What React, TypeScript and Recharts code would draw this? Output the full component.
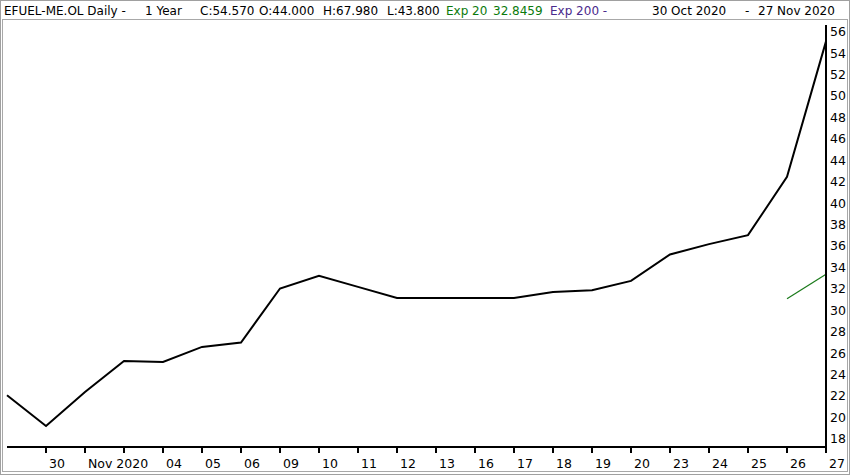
import React from 'react';
import { LineChart, Line, XAxis, YAxis } from 'recharts';

const dates = [
  '29 Oct', '30 Oct', '02 Nov', '03 Nov', '04 Nov', '05 Nov', '06 Nov', '09 Nov', '10 Nov', '11 Nov', '12 Nov',
  '13 Nov', '16 Nov', '17 Nov', '18 Nov', '19 Nov', '20 Nov', '23 Nov', '24 Nov', '25 Nov', '26 Nov', '27 Nov',
];
const tickLabels = [
  '', '30', 'Nov 2020', '', '04', '05', '06', '09', '10', '11', '12',
  '13', '16', '17', '18', '19', '20', '23', '24', '25', '26', '27',
];
const closes = [
  21.55, 18.68, 21.86, 24.75, 24.66, 26.06, 26.47, 31.51, 32.69, 31.66, 30.63,
  30.63, 30.63, 30.63, 31.19, 31.35, 32.22, 34.69, 35.65, 36.49, 41.93, 54.57,
];
const exp20: (number | null)[] = [
  null, null, null, null, null, null, null, null, null, null, null,
  null, null, null, null, null, null, null, null, null, 30.55, 32.85,
];
const yTicks = [18, 20, 22, 24, 26, 28, 30, 32, 34, 36, 38, 40, 42, 44, 46, 48, 50, 52, 54, 56];

const data = dates.map((d, i) => ({ date: d, close: closes[i], exp20: exp20[i] }));

const FONT = '"DejaVu Sans", Verdana, sans-serif';

const XTick = (props: any) => {
  const { x, y, index } = props;
  if (index === 0) return <g />;
  return (
    <g>
      <line x1={x} x2={x} y1={y - 6} y2={y} stroke="#000" strokeWidth={2} />
      <text x={x + 3} y={y + 15} fontSize={12.5} fontFamily={FONT} fill="#000" textAnchor="start">
        {tickLabels[index]}
      </text>
    </g>
  );
};

const YTick = (props: any) => {
  const { x, y, payload } = props;
  return (
    <text x={x + 1} y={y + 10} fontSize={12.5} fontFamily={FONT} fill="#000" textAnchor="start">
      {payload.value}
    </text>
  );
};

const hdr = (left: number, text: string, color = '#000') => (
  <div
    style={{
      position: 'absolute',
      left,
      top: 4,
      fontSize: 12,
      fontFamily: FONT,
      color,
      whiteSpace: 'pre',
      lineHeight: '15px',
    }}
  >
    {text}
  </div>
);

export default function App() {
  return (
    <div
      style={{
        position: 'absolute',
        left: 0,
        top: 0,
        width: 850,
        height: 475,
        background: '#fff',
        overflow: 'hidden',
      }}
    >
      <div
        style={{
          position: 'absolute',
          left: 0,
          top: 0,
          width: 850,
          height: 475,
          boxSizing: 'border-box',
          border: '1px solid #a0a0a0',
        }}
      />
      <div
        style={{
          position: 'absolute',
          left: 2,
          top: 19,
          width: 846,
          height: 453,
          boxSizing: 'border-box',
          border: '1px solid #a8a8a8',
        }}
      />
      {hdr(4, 'EFUEL-ME.OL Daily -')}
      {hdr(145, '1 Year')}
      {hdr(200, 'C:54.570')}
      {hdr(259, 'O:44.000')}
      {hdr(323, 'H:67.980')}
      {hdr(387, 'L:43.800')}
      {hdr(446, 'Exp 20', '#0b7a0b')}
      {hdr(493, '32.8459', '#0b7a0b')}
      {hdr(550, 'Exp 200 -', '#4a2a8c')}
      {hdr(652, '30 Oct 2020')}
      {hdr(745, '-')}
      {hdr(758, '27 Nov 2020')}
      <div style={{ position: 'absolute', left: 0, top: 0 }}>
        <LineChart width={850} height={475} data={data} margin={{ top: 25, right: 0, left: 7, bottom: 0 }}>
          <XAxis
            dataKey="date"
            height={28}
            interval={0}
            padding={{ left: 0, right: 0 }}
            tickSize={6}
            tickMargin={0}
            tickLine={false}
            axisLine={{ stroke: '#000', strokeWidth: 2 }}
            tick={<XTick />}
          />
          <YAxis
            orientation="right"
            width={24}
            domain={[16.72, 56.1]}
            ticks={yTicks}
            allowDataOverflow
            interval={0}
            tickSize={3}
            tickMargin={0}
            tickLine={false}
            axisLine={{ stroke: '#000', strokeWidth: 2 }}
            tick={<YTick />}
          />
          <Line
            type="linear"
            dataKey="close"
            stroke="#000"
            strokeWidth={2}
            dot={false}
            isAnimationActive={false}
          />
          <Line
            type="linear"
            dataKey="exp20"
            stroke="#1a7a1a"
            strokeWidth={1.2}
            dot={false}
            connectNulls={false}
            isAnimationActive={false}
          />
        </LineChart>
      </div>
    </div>
  );
}
